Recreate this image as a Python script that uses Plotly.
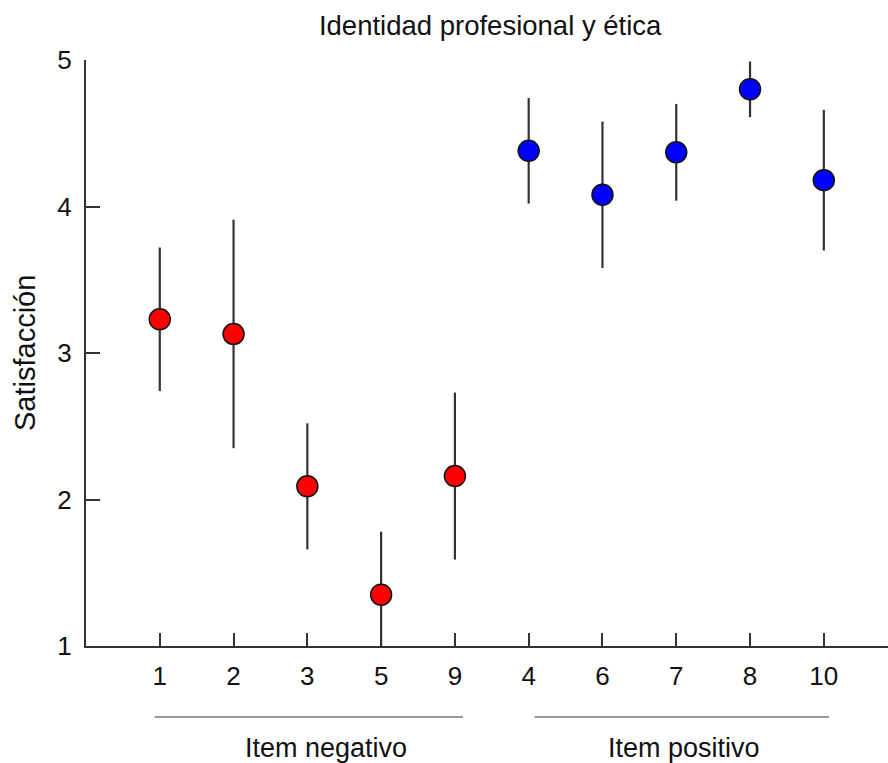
import plotly.graph_objects as go

# ---- data ----
neg_items = ["1", "2", "3", "5", "9"]
neg_means = [3.23, 3.13, 2.09, 1.35, 2.16]
neg_err = [0.49, 0.78, 0.43, 0.43, 0.57]

pos_items = ["4", "6", "7", "8", "10"]
pos_means = [4.38, 4.08, 4.37, 4.80, 4.18]
pos_err = [0.36, 0.50, 0.33, 0.19, 0.48]

group_labels = ["Item negativo", "Item positivo"]
title_text = "Identidad profesional y ética"
y_title = "Satisfacción"
y_ticks = [1, 2, 3, 4, 5]

categories = neg_items + pos_items

FONT = "Liberation Sans, Arial, sans-serif"
INK = "#333333"

fig = go.Figure()
for items, means, err, color in [
    (neg_items, neg_means, neg_err, "#FF0000"),
    (pos_items, pos_means, pos_err, "#0000FF"),
]:
    fig.add_trace(go.Scatter(
        x=items, y=means, mode="markers", showlegend=False,
        marker=dict(size=21, color=color, line=dict(color="#111111", width=1.5)),
        error_y=dict(type="data", array=err, visible=True, color=INK,
                     thickness=2.2, width=0),
    ))

# group underline + label (style offsets in category units)
groups = [neg_items, pos_items]
line_pad = [(-0.07, 0.11), (0.08, 0.07)]
label_shift = [0.25, 0.10]
for g, lab, (p0, p1), sh in zip(groups, group_labels, line_pad, label_shift):
    i0 = categories.index(g[0])
    i1 = categories.index(g[-1])
    fig.add_shape(type="line", xref="x", yref="paper",
                  x0=i0 + p0, x1=i1 + p1, y0=-0.121, y1=-0.121,
                  line=dict(color="#777777", width=1.5))
    fig.add_annotation(x=(i0 + i1) / 2 + sh, xref="x", y=-0.174, yref="paper",
                       text=lab, showarrow=False,
                       font=dict(size=27, color="#111111", family=FONT),
                       yanchor="middle", xanchor="center")

# y axis title as rotated annotation
fig.add_annotation(x=(25 - 86) / 802, xref="paper", y=0.5, yref="paper",
                   text=y_title, textangle=-90, showarrow=False,
                   font=dict(size=29, color="#111111", family=FONT),
                   xanchor="center", yanchor="middle")

fig.update_layout(
    width=888, height=763,
    margin=dict(l=86, r=0, t=60, b=117),
    paper_bgcolor="white", plot_bgcolor="white",
    font=dict(family=FONT, size=26, color="#111111"),
    title=dict(text=title_text, x=0.552, xanchor="center", y=1 - 25 / 763,
               yanchor="middle", yref="container",
               font=dict(size=27.5, color="#111111", family=FONT)),
)
fig.update_xaxes(
    type="category", categoryorder="array", categoryarray=categories,
    range=[-1.0, 9.87], showline=True, linecolor=INK, linewidth=2,
    ticks="inside", ticklen=13, tickwidth=2, tickcolor=INK,
    showgrid=False, zeroline=False, tickfont=dict(size=26),
    ticklabelstandoff=6,
)
fig.update_yaxes(
    range=[1, 5], tickvals=y_ticks, showline=True, linecolor=INK, linewidth=2,
    ticks="inside", ticklen=14, tickwidth=2, tickcolor=INK,
    showgrid=False, zeroline=False, tickfont=dict(size=26),
    ticklabelstandoff=7,
)

fig.write_html("out.html")
